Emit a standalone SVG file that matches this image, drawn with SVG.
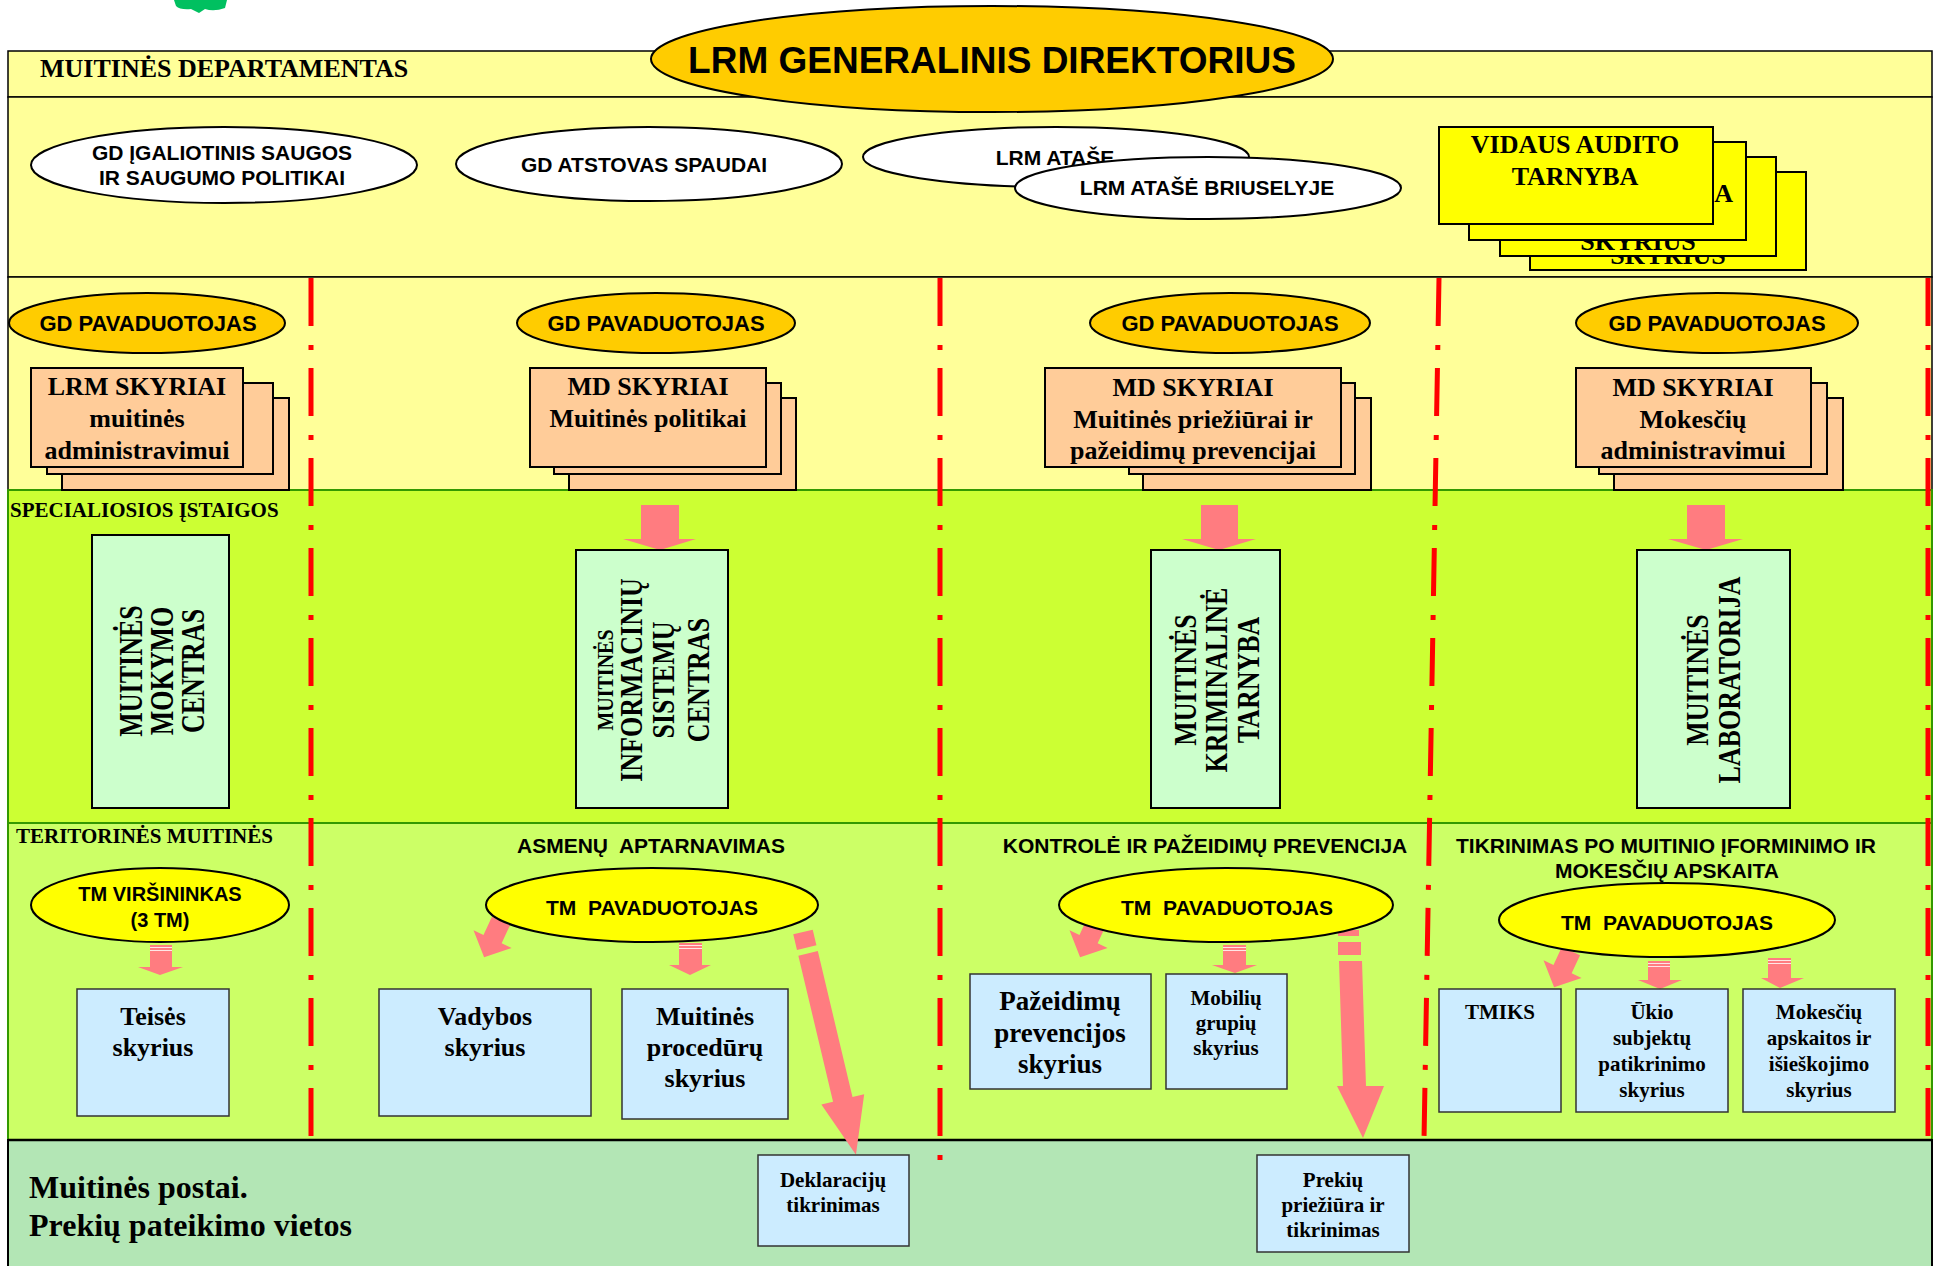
<svg xmlns="http://www.w3.org/2000/svg" width="1934" height="1266" viewBox="0 0 1934 1266">
<style>
.band-y{fill:#FFFF99;stroke:#000;stroke-width:1.5}
.tb{font-family:"Liberation Serif","Times New Roman",serif;font-weight:bold;fill:#000}
.ab{font-family:"Liberation Sans",Arial,sans-serif;font-weight:bold;fill:#000}
.wel{fill:#FFFFFF;stroke:#000;stroke-width:2}
.oel{fill:#FFCC00;stroke:#000;stroke-width:2}
.yel{fill:#FFFF00;stroke:#000;stroke-width:2}
.peach{fill:#FFCC99;stroke:#000;stroke-width:2}
.aud{fill:#FFFF00;stroke:#000;stroke-width:2}
.vbox{fill:#CCFFCC;stroke:#000;stroke-width:2}
.bbox{fill:#CCECFF;stroke:#333;stroke-width:1.5}
.arr{fill:#FF7C80}
.stripe{stroke:#FFE6E6;stroke-width:1}
.sep{stroke:#FF0000;stroke-width:5;fill:none;stroke-dasharray:48 19 5 18}
.mid{text-anchor:middle}
</style>

<g id="logo"><path d="M174,0 L227,0 L225,8 Q214,12 205,9 L199,13 L191,9 Q180,10 176,6 Z" fill="#00C060"/></g>

<g id="bands">
<rect class="band-y" x="8" y="51" width="1924" height="46"/>
<rect class="band-y" x="8" y="97" width="1924" height="180"/>
<rect class="band-y" x="8" y="277" width="1924" height="213"/>
<rect x="8" y="490" width="1924" height="333" fill="#CCFF33" stroke="#339900" stroke-width="2"/>
<rect x="8" y="823" width="1924" height="317" fill="#CCFF66" stroke="#339900" stroke-width="2"/>
<rect x="8" y="1140" width="1924" height="140" fill="#B3E6B5" stroke="#000" stroke-width="2"/>
<line x1="8" y1="1140" x2="1932" y2="1140" stroke="#000" stroke-width="2.5"/>
</g>

<g id="labels">
<text class="tb" x="40" y="77" font-size="26">MUITINĖS DEPARTAMENTAS</text>
<text class="tb" x="10" y="517" font-size="21">SPECIALIOSIOS ĮSTAIGOS</text>
<text class="tb" x="16" y="843" font-size="21">TERITORINĖS MUITINĖS</text>
<text class="ab mid" x="651" y="853" font-size="21" style="white-space:pre">ASMENŲ  APTARNAVIMAS</text>
<text class="ab mid" x="1205" y="853" font-size="21">KONTROLĖ IR PAŽEIDIMŲ PREVENCIJA</text>
<text class="ab mid" x="1666" y="853" font-size="21">TIKRINIMAS PO MUITINIO ĮFORMINIMO IR</text>
<text class="ab mid" x="1667" y="878" font-size="21">MOKESČIŲ APSKAITA</text>
<text class="tb" x="29" y="1198" font-size="32">Muitinės postai.</text>
<text class="tb" x="29" y="1236" font-size="32">Prekių pateikimo vietos</text>
</g>

<g id="separators">
<line class="sep" x1="311" y1="278" x2="311" y2="1140"/>
<line class="sep" x1="940" y1="278" x2="940" y2="1160"/>
<line class="sep" x1="1439" y1="278" x2="1424" y2="1140"/>
<line class="sep" x1="1928" y1="278" x2="1928" y2="1140"/>
</g>

<g id="connectors">
<polygon class="arr" points="641,505 679,505 679,539 696,539 660,550 623,539 641,539"/>
<polygon class="arr" points="1201,505 1238,505 1238,539 1256,539 1219,550 1182,539 1201,539"/>
<polygon class="arr" points="1687,505 1725,505 1725,539 1743,539 1706,550 1668,539 1687,539"/>
<polygon class="arr" points="150,945 172,945 172,967 183,967 160,975 138,967 150,967"/>
<line class="stripe" x1="150" y1="947.5" x2="172" y2="947.5"/><line class="stripe" x1="150" y1="950.5" x2="172" y2="950.5"/>
<polygon class="arr" points="679,943 702,943 702,965 711,965 690,975 669,965 679,965"/>
<line class="stripe" x1="679" y1="945.5" x2="702" y2="945.5"/><line class="stripe" x1="679" y1="948.5" x2="702" y2="948.5"/>
<polygon class="arr" points="1223,945 1246,945 1246,965 1257,965 1235,973 1212,965 1223,965"/>
<line class="stripe" x1="1223" y1="947.5" x2="1246" y2="947.5"/><line class="stripe" x1="1223" y1="950.5" x2="1246" y2="950.5"/>
<polygon class="arr" points="1648,961 1670,961 1670,980 1682,980 1660,989 1638,980 1648,980"/>
<line class="stripe" x1="1648" y1="963.5" x2="1670" y2="963.5"/><line class="stripe" x1="1648" y1="966.5" x2="1670" y2="966.5"/>
<polygon class="arr" points="1768,958 1791,958 1791,978 1804,978 1780,988 1761,978 1768,978"/>
<line class="stripe" x1="1768" y1="960.5" x2="1791" y2="960.5"/><line class="stripe" x1="1768" y1="963.5" x2="1791" y2="963.5"/>
<polygon class="arr" transform="translate(501,921) rotate(25)" points="-10,0 10,0 10,20 21,20 0,40 -21,20 -10,20"/>
<polygon class="arr" transform="translate(1097,921) rotate(25)" points="-10,0 10,0 10,20 21,20 0,40 -21,20 -10,20"/>
<polygon class="arr" transform="translate(1571,951) rotate(25)" points="-10,0 10,0 10,20 21,20 0,40 -21,20 -10,20"/>
<g transform="translate(803,932) rotate(-13.37)">
<polygon class="arr" points="-10,0 10,0 10,16 -10,16"/>
<polygon class="arr" points="-10,22 10,22 10,172 22,172 0,229 -22,172 -10,172"/>
</g>
<polygon class="arr" points="1338,930 1359,930 1359,936 1338,936"/>
<polygon class="arr" points="1338,942 1361,942 1361,955 1338,955"/>
<polygon class="arr" points="1339,961 1362,961 1366,1086 1384,1086 1363,1138 1337,1086 1343,1086"/>
</g>

<g id="gd-igaliotinis">
<ellipse class="wel" cx="224" cy="165" rx="193" ry="38"/>
<text class="ab mid" x="222" y="160" font-size="21">GD ĮGALIOTINIS SAUGOS</text>
<text class="ab mid" x="222" y="185" font-size="21">IR SAUGUMO POLITIKAI</text>
</g>
<g id="gd-atstovas">
<ellipse class="wel" cx="649" cy="164" rx="193" ry="37"/>
<text class="ab mid" x="644" y="172" font-size="21">GD ATSTOVAS SPAUDAI</text>
</g>
<g id="lrm-atase">
<ellipse class="wel" cx="1056" cy="157" rx="193" ry="30"/>
<text class="ab mid" x="1055" y="165" font-size="21">LRM ATAŠE</text>
</g>
<g id="lrm-atase-briuselyje">
<ellipse class="wel" cx="1208" cy="188" rx="193" ry="31"/>
<text class="ab mid" x="1207" y="195" font-size="21">LRM ATAŠĖ BRIUSELYJE</text>
</g>

<g id="vidaus-audito">
<rect class="aud" x="1530" y="172" width="276" height="98"/>
<text class="tb mid" x="1668" y="264" font-size="26">SKYRIUS</text>
<rect class="aud" x="1500" y="157" width="276" height="99"/>
<text class="tb mid" x="1638" y="250" font-size="26">SKYRIUS</text>
<rect class="aud" x="1469" y="142" width="277" height="98"/>
<text class="tb" x="1733" y="202" font-size="26" text-anchor="end">A</text>
<rect class="aud" x="1439" y="127" width="274" height="97"/>
<text class="tb mid" x="1575" y="153" font-size="26">VIDAUS AUDITO</text>
<text class="tb mid" x="1575" y="185" font-size="26">TARNYBA</text>
</g>

<g id="generalinis">
<ellipse cx="992" cy="59" rx="341" ry="53" fill="#FFCC00" stroke="#000" stroke-width="2"/>
<text class="ab mid" x="992" y="73" font-size="37">LRM GENERALINIS DIREKTORIUS</text>
</g>

<g id="gd-pav-1">
<ellipse class="oel" cx="147" cy="323" rx="138" ry="30"/>
<text class="ab mid" x="148" y="331" font-size="22">GD PAVADUOTOJAS</text>
</g>
<g id="gd-pav-2">
<ellipse class="oel" cx="656" cy="323" rx="139" ry="30"/>
<text class="ab mid" x="656" y="331" font-size="22">GD PAVADUOTOJAS</text>
</g>
<g id="gd-pav-3">
<ellipse class="oel" cx="1230" cy="323" rx="140" ry="30"/>
<text class="ab mid" x="1230" y="331" font-size="22">GD PAVADUOTOJAS</text>
</g>
<g id="gd-pav-4">
<ellipse class="oel" cx="1717" cy="323" rx="141" ry="30"/>
<text class="ab mid" x="1717" y="331" font-size="22">GD PAVADUOTOJAS</text>
</g>

<g id="lrm-skyriai">
<rect class="peach" x="62" y="398" width="227" height="92"/>
<rect class="peach" x="47" y="383" width="226" height="91"/>
<rect class="peach" x="31" y="368" width="212" height="99"/>
<text class="tb mid" x="137" y="395" font-size="26">LRM SKYRIAI</text>
<text class="tb mid" x="137" y="427" font-size="26">muitinės</text>
<text class="tb mid" x="137" y="459" font-size="26">administravimui</text>
</g>
<g id="md-politikai">
<rect class="peach" x="569" y="398" width="227" height="92"/>
<rect class="peach" x="554" y="383" width="227" height="91"/>
<rect class="peach" x="530" y="368" width="236" height="99"/>
<text class="tb mid" x="648" y="395" font-size="26">MD SKYRIAI</text>
<text class="tb mid" x="648" y="427" font-size="26">Muitinės politikai</text>
</g>
<g id="md-prieziurai">
<rect class="peach" x="1143" y="398" width="228" height="92"/>
<rect class="peach" x="1129" y="383" width="226" height="91"/>
<rect class="peach" x="1045" y="368" width="296" height="99"/>
<text class="tb mid" x="1193" y="396" font-size="26">MD SKYRIAI</text>
<text class="tb mid" x="1193" y="428" font-size="26">Muitinės priežiūrai ir</text>
<text class="tb mid" x="1193" y="459" font-size="26">pažeidimų prevencijai</text>
</g>
<g id="md-mokesciu">
<rect class="peach" x="1614" y="398" width="229" height="92"/>
<rect class="peach" x="1599" y="383" width="228" height="91"/>
<rect class="peach" x="1576" y="368" width="235" height="99"/>
<text class="tb mid" x="1693" y="396" font-size="26">MD SKYRIAI</text>
<text class="tb mid" x="1693" y="428" font-size="26">Mokesčių</text>
<text class="tb mid" x="1693" y="459" font-size="26">administravimui</text>
</g>

<g id="mokymo-centras">
<rect class="vbox" x="92" y="535" width="137" height="273"/>
<text class="tb mid" font-size="26" transform="translate(142,671) rotate(-90) scale(1,1.28)">MUITINĖS</text>
<text class="tb mid" font-size="26" transform="translate(173,671) rotate(-90) scale(1,1.28)">MOKYMO</text>
<text class="tb mid" font-size="26" transform="translate(204,671) rotate(-90) scale(1,1.28)">CENTRAS</text>
</g>
<g id="info-centras">
<rect class="vbox" x="576" y="550" width="152" height="258"/>
<text class="tb mid" font-size="20" transform="translate(613,680) rotate(-90) scale(1,1.2)">MUITINĖS</text>
<text class="tb mid" font-size="26" transform="translate(642,680) rotate(-90) scale(1,1.22)">INFORMACINIŲ</text>
<text class="tb mid" font-size="26" transform="translate(674,680) rotate(-90) scale(1,1.22)">SISTEMŲ</text>
<text class="tb mid" font-size="26" transform="translate(709,680) rotate(-90) scale(1,1.22)">CENTRAS</text>
</g>
<g id="kriminaline">
<rect class="vbox" x="1151" y="550" width="129" height="258"/>
<text class="tb mid" font-size="26" transform="translate(1196,680) rotate(-90) scale(1,1.2)">MUITINĖS</text>
<text class="tb mid" font-size="26" transform="translate(1227,680) rotate(-90) scale(1,1.2)">KRIMINALINĖ</text>
<text class="tb mid" font-size="26" transform="translate(1259,680) rotate(-90) scale(1,1.2)">TARNYBA</text>
</g>
<g id="laboratorija">
<rect class="vbox" x="1637" y="550" width="153" height="258"/>
<text class="tb mid" font-size="26" transform="translate(1708,680) rotate(-90) scale(1,1.2)">MUITINĖS</text>
<text class="tb mid" font-size="26" transform="translate(1740,680) rotate(-90) scale(1,1.2)">LABORATORIJA</text>
</g>

<g id="tm-virsininkas">
<ellipse class="yel" cx="160" cy="905" rx="129" ry="37"/>
<text class="ab mid" x="160" y="901" font-size="20">TM VIRŠININKAS</text>
<text class="ab mid" x="160" y="927" font-size="20">(3 TM)</text>
</g>
<g id="tm-pav-asmenu">
<ellipse class="yel" cx="652" cy="905" rx="166" ry="37"/>
<text class="ab mid" x="652" y="915" font-size="21" style="white-space:pre">TM  PAVADUOTOJAS</text>
</g>
<g id="tm-pav-kontrole">
<ellipse class="yel" cx="1226" cy="905" rx="167" ry="37"/>
<text class="ab mid" x="1227" y="915" font-size="21" style="white-space:pre">TM  PAVADUOTOJAS</text>
</g>
<g id="tm-pav-tikrinimas">
<ellipse class="yel" cx="1667" cy="920" rx="168" ry="37"/>
<text class="ab mid" x="1667" y="930" font-size="21" style="white-space:pre">TM  PAVADUOTOJAS</text>
</g>

<g id="teises">
<rect class="bbox" x="77" y="989" width="152" height="127"/>
<text class="tb mid" x="153" y="1025" font-size="26">Teisės</text>
<text class="tb mid" x="153" y="1056" font-size="26">skyrius</text>
</g>
<g id="vadybos">
<rect class="bbox" x="379" y="989" width="212" height="127"/>
<text class="tb mid" x="485" y="1025" font-size="26">Vadybos</text>
<text class="tb mid" x="485" y="1056" font-size="26">skyrius</text>
</g>
<g id="proceduru">
<rect class="bbox" x="622" y="989" width="166" height="130"/>
<text class="tb mid" x="705" y="1025" font-size="26">Muitinės</text>
<text class="tb mid" x="705" y="1056" font-size="26">procedūrų</text>
<text class="tb mid" x="705" y="1087" font-size="26">skyrius</text>
</g>
<g id="pazeidimu">
<rect class="bbox" x="970" y="974" width="181" height="115"/>
<text class="tb mid" x="1060" y="1010" font-size="27">Pažeidimų</text>
<text class="tb mid" x="1060" y="1042" font-size="27">prevencijos</text>
<text class="tb mid" x="1060" y="1073" font-size="27">skyrius</text>
</g>
<g id="mobiliu">
<rect class="bbox" x="1166" y="974" width="121" height="115"/>
<text class="tb mid" x="1226" y="1005" font-size="21">Mobilių</text>
<text class="tb mid" x="1226" y="1030" font-size="21">grupių</text>
<text class="tb mid" x="1226" y="1055" font-size="21">skyrius</text>
</g>
<g id="tmiks">
<rect class="bbox" x="1439" y="989" width="122" height="123"/>
<text class="tb mid" x="1500" y="1019" font-size="21">TMIKS</text>
</g>
<g id="ukio">
<rect class="bbox" x="1576" y="989" width="152" height="123"/>
<text class="tb mid" x="1652" y="1019" font-size="21">Ūkio</text>
<text class="tb mid" x="1652" y="1045" font-size="21">subjektų</text>
<text class="tb mid" x="1652" y="1071" font-size="21">patikrinimo</text>
<text class="tb mid" x="1652" y="1097" font-size="21">skyrius</text>
</g>
<g id="mokesciu-apskaitos">
<rect class="bbox" x="1743" y="989" width="152" height="123"/>
<text class="tb mid" x="1819" y="1019" font-size="21">Mokesčių</text>
<text class="tb mid" x="1819" y="1045" font-size="21">apskaitos ir</text>
<text class="tb mid" x="1819" y="1071" font-size="21">išieškojimo</text>
<text class="tb mid" x="1819" y="1097" font-size="21">skyrius</text>
</g>
<g id="deklaraciju">
<rect class="bbox" x="758" y="1155" width="151" height="91"/>
<text class="tb mid" x="833" y="1187" font-size="21">Deklaracijų</text>
<text class="tb mid" x="833" y="1212" font-size="21">tikrinimas</text>
</g>
<g id="prekiu">
<rect class="bbox" x="1257" y="1155" width="152" height="97"/>
<text class="tb mid" x="1333" y="1187" font-size="21">Prekių</text>
<text class="tb mid" x="1333" y="1212" font-size="21">priežiūra ir</text>
<text class="tb mid" x="1333" y="1237" font-size="21">tikrinimas</text>
</g>
</svg>
